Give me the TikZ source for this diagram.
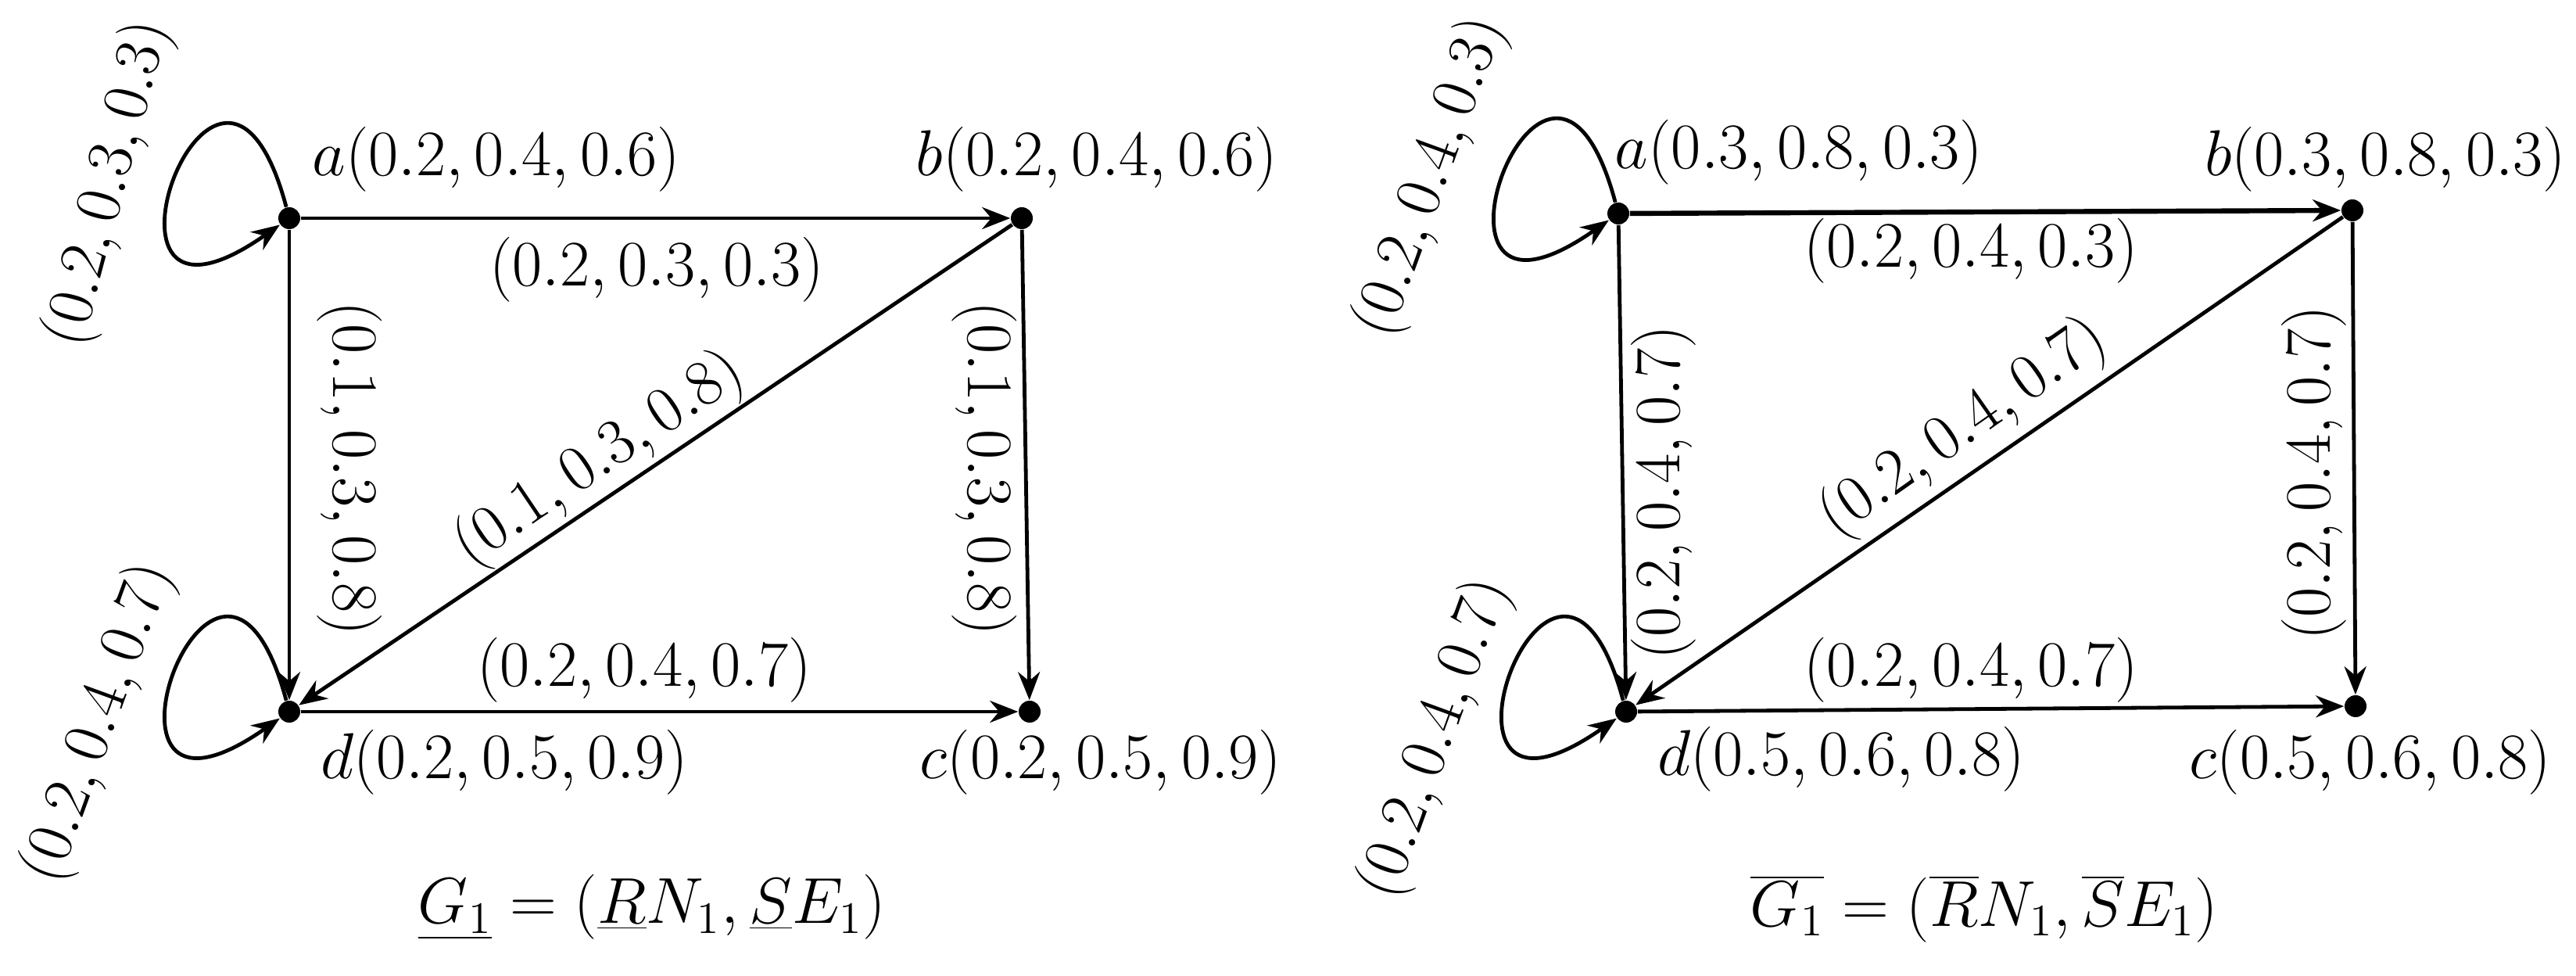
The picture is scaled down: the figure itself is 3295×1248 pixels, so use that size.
\documentclass[tikz,border=0pt]{standalone}
\usetikzlibrary{arrows.meta}
\begin{document}
\begin{tikzpicture}[x=0.25pt,y=-0.25pt,
  dot/.style={circle,fill=black,inner sep=0pt,minimum size=7pt},
  lbl/.style={font=\fontsize{22}{26}\selectfont,inner sep=1pt},
  edg/.style={line width=1.2pt,-{Stealth[length=9pt,width=7pt]}},
  lp/.style={edg,distance=85pt}]
\useasboundingbox (0,0) rectangle (3295,1248);
% left graph
\node[dot] (a) at (370,279) {};
\node[dot] (b) at (1307,279) {};
\node[dot] (d) at (370,910) {};
\node[dot] (c) at (1317,910) {};
\draw[edg] (a) -- (b);
\draw[edg] (a) -- (d);
\draw[edg] (b) -- (d);
\draw[edg] (b) -- (c);
\draw[edg] (d) -- (c);
\draw[lp] (a) to[out=105,in=215] (a);
\draw[lp] (d) to[out=105,in=215] (d);
\node[lbl] (la) at (635,204) {$a(0.2,0.4,0.6)$};
\node[lbl] (lb) at (1403,204) {$b(0.2,0.4,0.6)$};
\node[lbl] (ld) at (645,975) {$d(0.2,0.5,0.9)$};
\node[lbl] (lc) at (1408,975) {$c(0.2,0.5,0.9)$};
\node[lbl] at (840,345) {$(0.2,0.3,0.3)$};
\node[lbl,rotate=-90] at (447,599) {$(0.1,0.3,0.8)$};
\node[lbl,rotate=34] at (767,588) {$(0.1,0.3,0.8)$};
\node[lbl,rotate=-90] at (1259,599) {$(0.1,0.3,0.8)$};
\node[lbl] at (824,857) {$(0.2,0.4,0.7)$};
\node[lbl,rotate=75] at (140,235) {$(0.2,0.3,0.3)$};
\node[lbl,rotate=70] at (127,925) {$(0.2,0.4,0.7)$};
\node[lbl] at (834,1160) {$\underline{G_1}=(\underline{R}N_1,\underline{S}E_1)$};
% right graph
\node[dot] (a2) at (2070,273) {};
\node[dot] (b2) at (3009,269) {};
\node[dot] (d2) at (2080,910) {};
\node[dot] (c2) at (3013,903) {};
\draw[edg,line width=1.6pt] (a2) -- (b2);
\draw[edg] (a2) -- (d2);
\draw[edg] (b2) -- (d2);
\draw[edg] (b2) -- (c2);
\draw[edg] (d2) -- (c2);
\draw[lp] (a2) to[out=105,in=215] (a2);
\draw[lp] (d2) to[out=105,in=215] (d2);
\node[lbl] at (2301,195) {$a(0.3,0.8,0.3)$};
\node[lbl] at (3051,204) {$b(0.3,0.8,0.3)$};
\node[lbl] at (2355,971) {$d(0.5,0.6,0.8)$};
\node[lbl] at (3032,975) {$c(0.5,0.6,0.8)$};
\node[lbl] at (2521,321) {$(0.2,0.4,0.3)$};
\node[lbl,rotate=90] at (2128,630) {$(0.2,0.4,0.7)$};
\node[lbl,rotate=35] at (2512,548) {$(0.2,0.4,0.7)$};
\node[lbl,rotate=90] at (2960,605) {$(0.2,0.4,0.7)$};
\node[lbl] at (2521,857) {$(0.2,0.4,0.7)$};
\node[lbl,rotate=70] at (1831,227) {$(0.2,0.4,0.3)$};
\node[lbl,rotate=70] at (1837,945) {$(0.2,0.4,0.7)$};
\node[lbl] at (2538,1162) {$\overline{G_1}=(\overline{R}N_1,\overline{S}E_1)$};
\end{tikzpicture}
\end{document}
